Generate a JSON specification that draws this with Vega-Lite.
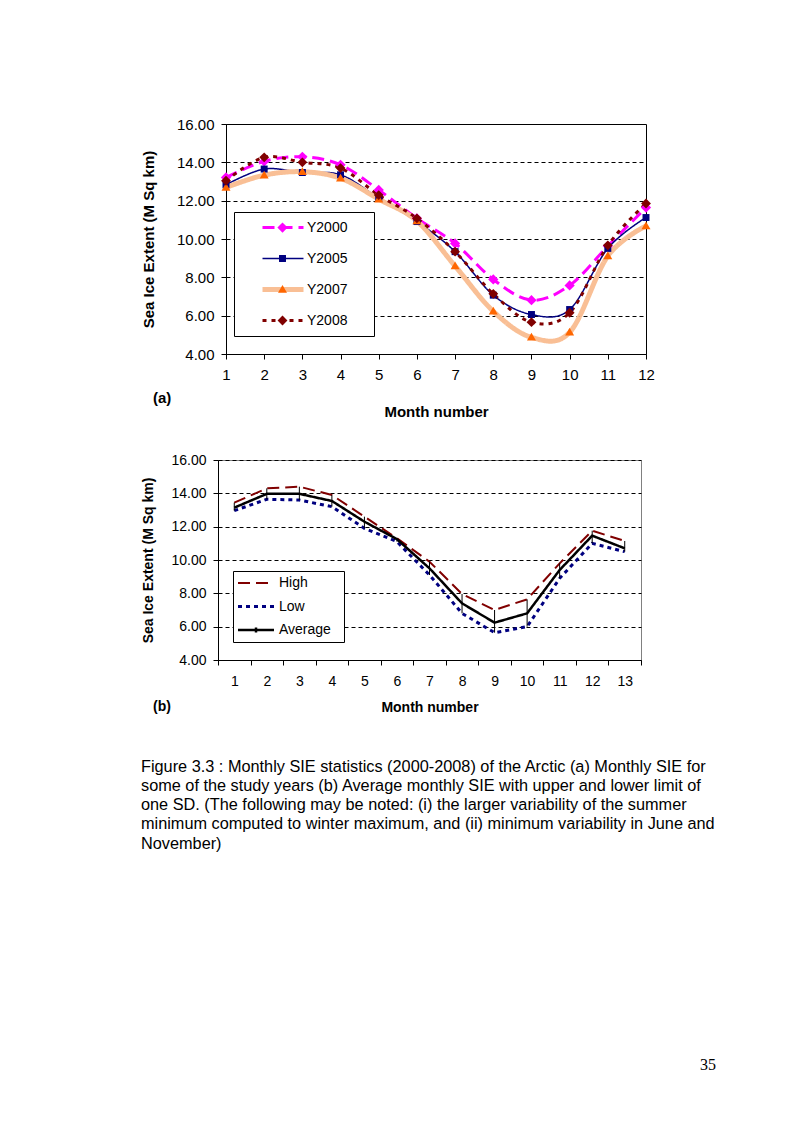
{
  "$schema": "https://vega.github.io/schema/vega-lite/v6.json",
  "background": "white",
  "padding": {"left": 140, "top": 116, "right": 5, "bottom": 5},
  "datasets": {
    "a": [
      {"month": 1, "series": "Y2000", "value": 13.21}, {"month": 2, "series": "Y2000", "value": 14.05}, {"month": 3, "series": "Y2000", "value": 14.29}, {"month": 4, "series": "Y2000", "value": 13.87}, {"month": 5, "series": "Y2000", "value": 12.56}, {"month": 6, "series": "Y2000", "value": 11.08}, {"month": 7, "series": "Y2000", "value": 9.77}, {"month": 8, "series": "Y2000", "value": 7.89}, {"month": 9, "series": "Y2000", "value": 6.81}, {"month": 10, "series": "Y2000", "value": 7.58}, {"month": 11, "series": "Y2000", "value": 9.63}, {"month": 12, "series": "Y2000", "value": 11.64},
      {"month": 1, "series": "Y2005", "value": 12.83}, {"month": 2, "series": "Y2005", "value": 13.65}, {"month": 3, "series": "Y2005", "value": 13.47}, {"month": 4, "series": "Y2005", "value": 13.35}, {"month": 5, "series": "Y2005", "value": 12.13}, {"month": 6, "series": "Y2005", "value": 10.91}, {"month": 7, "series": "Y2005", "value": 9.34}, {"month": 8, "series": "Y2005", "value": 7.07}, {"month": 9, "series": "Y2005", "value": 6.06}, {"month": 10, "series": "Y2005", "value": 6.32}, {"month": 11, "series": "Y2005", "value": 9.51}, {"month": 12, "series": "Y2005", "value": 11.12},
      {"month": 1, "series": "Y2007", "value": 12.69}, {"month": 2, "series": "Y2007", "value": 13.33}, {"month": 3, "series": "Y2007", "value": 13.51}, {"month": 4, "series": "Y2007", "value": 13.17}, {"month": 5, "series": "Y2007", "value": 12.08}, {"month": 6, "series": "Y2007", "value": 10.94}, {"month": 7, "series": "Y2007", "value": 8.59}, {"month": 8, "series": "Y2007", "value": 6.23}, {"month": 9, "series": "Y2007", "value": 4.87}, {"month": 10, "series": "Y2007", "value": 5.13}, {"month": 11, "series": "Y2007", "value": 9.11}, {"month": 12, "series": "Y2007", "value": 10.68},
      {"month": 1, "series": "Y2008", "value": 13.04}, {"month": 2, "series": "Y2008", "value": 14.26}, {"month": 3, "series": "Y2008", "value": 14.0}, {"month": 4, "series": "Y2008", "value": 13.7}, {"month": 5, "series": "Y2008", "value": 12.29}, {"month": 6, "series": "Y2008", "value": 11.08}, {"month": 7, "series": "Y2008", "value": 9.34}, {"month": 8, "series": "Y2008", "value": 7.14}, {"month": 9, "series": "Y2008", "value": 5.66}, {"month": 10, "series": "Y2008", "value": 6.15}, {"month": 11, "series": "Y2008", "value": 9.67}, {"month": 12, "series": "Y2008", "value": 11.85}
    ],
    "b": [
      {"month": 1, "series": "High", "value": 13.44}, {"month": 2, "series": "High", "value": 14.3}, {"month": 3, "series": "High", "value": 14.4}, {"month": 4, "series": "High", "value": 13.9}, {"month": 5, "series": "High", "value": 12.6}, {"month": 6, "series": "High", "value": 11.3}, {"month": 7, "series": "High", "value": 9.9}, {"month": 8, "series": "High", "value": 7.96}, {"month": 9, "series": "High", "value": 7.0}, {"month": 10, "series": "High", "value": 7.64}, {"month": 11, "series": "High", "value": 9.8}, {"month": 12, "series": "High", "value": 11.76}, {"month": 13, "series": "High", "value": 11.14},
      {"month": 1, "series": "Low", "value": 12.96}, {"month": 2, "series": "Low", "value": 13.64}, {"month": 3, "series": "Low", "value": 13.6}, {"month": 4, "series": "Low", "value": 13.2}, {"month": 5, "series": "Low", "value": 11.9}, {"month": 6, "series": "Low", "value": 11.1}, {"month": 7, "series": "Low", "value": 9.1}, {"month": 8, "series": "Low", "value": 6.8}, {"month": 9, "series": "Low", "value": 5.64}, {"month": 10, "series": "Low", "value": 6.0}, {"month": 11, "series": "Low", "value": 8.9}, {"month": 12, "series": "Low", "value": 11.0}, {"month": 13, "series": "Low", "value": 10.5},
      {"month": 1, "series": "Average", "value": 13.14}, {"month": 2, "series": "Average", "value": 13.97}, {"month": 3, "series": "Average", "value": 13.97}, {"month": 4, "series": "Average", "value": 13.54}, {"month": 5, "series": "Average", "value": 12.3}, {"month": 6, "series": "Average", "value": 11.25}, {"month": 7, "series": "Average", "value": 9.5}, {"month": 8, "series": "Average", "value": 7.4}, {"month": 9, "series": "Average", "value": 6.24}, {"month": 10, "series": "Average", "value": 6.8}, {"month": 11, "series": "Average", "value": 9.4}, {"month": 12, "series": "Average", "value": 11.46}, {"month": 13, "series": "Average", "value": 10.7}
    ]
  },
  "config": {
    "font": "Liberation Sans",
    "view": {"stroke": null},
    "axis": {
      "labelFont": "Liberation Sans", "labelColor": "black", "labelFontSize": 14, "labelOverlap": false, "labelFlush": false,
      "domainColor": "black", "tickColor": "black", "tickSize": 5,
      "titleFont": "Liberation Sans", "titleColor": "black", "titleFontWeight": "bold", "titleFontSize": 15,
      "gridColor": "black", "gridDash": [4, 3], "gridOpacity": 1, "gridWidth": 1
    },
    "legend": {"labelFont": "Liberation Sans", "labelColor": "black", "labelFontSize": 14},
    "title": {"font": "Liberation Sans", "color": "black"}
  },
  "columns": 1,
  "align": "none",
  "spacing": 32,
  "resolve": {"scale": {"color": "independent", "strokeDash": "independent", "fill": "independent", "shape": "independent"}},
  "concat": [
    {
      "hconcat": [
        {
          "width": 1,
          "height": 1,
          "data": {"values": [{"note": ""}]},
          "mark": {"type": "text"},
          "encoding": {"text": {"field": "note"}}
        },
        {
          "width": 420,
          "height": 230,
          "view": {"stroke": "black"},
          "title": {"text": "(a)", "orient": "bottom", "anchor": "start", "frame": "group", "dx": -73, "offset": -28, "fontSize": 15, "fontWeight": "bold"},
          "data": {"name": "a"},
          "layer": [
            {
              "mark": {"type": "line", "interpolate": "cardinal", "tension": 0},
              "encoding": {
                "x": {"field": "month", "type": "quantitative", "scale": {"domain": [1, 12], "nice": false, "zero": false},
                  "axis": {"values": [1, 2, 3, 4, 5, 6, 7, 8, 9, 10, 11, 12], "tickCount": 12, "grid": false, "labelFontSize": 15, "labelPadding": 8, "title": "Month number", "titlePadding": 22}},
                "y": {"field": "value", "type": "quantitative", "scale": {"domain": [4, 16], "nice": false, "zero": false},
                  "axis": {"values": [4, 6, 8, 10, 12, 14, 16], "tickCount": 7, "format": ".2f", "grid": true, "labelFontSize": 15, "labelPadding": 7, "title": "Sea Ice Extent (M Sq km)", "titlePadding": 19.5}},
                "color": {"field": "series", "type": "nominal", "scale": {"range": ["#FF00FF", "#000080", "#F9BF95", "#800000"]},
                  "legend": {"orient": "none", "legendX": 94, "legendY": 88, "zindex": 1, "title": null, "symbolType": "stroke", "symbolSize": 1681, "clipHeight": 17, "rowPadding": 14, "padding": 7, "symbolOffset": 20, "labelOffset": 2, "strokeColor": "black", "fillColor": "white", "labelExpr": "datum.label + '\u00a0\u00a0\u00a0\u00a0\u00a0\u200b'",
                    "encode": {"symbols": {"update": {"strokeWidth": {"signal": "(datum.value === 'Y2007' ? 5 : (datum.value === 'Y2005' ? 1.5 : 3))"}}}}}},
                "strokeDash": {"field": "series", "type": "nominal", "scale": {"range": [[12, 6], [1, 0], [1, 0], [4, 5]]},
                  "legend": {"orient": "none", "legendX": 94, "legendY": 88, "zindex": 1, "title": null, "symbolType": "stroke", "symbolSize": 1681, "clipHeight": 17, "rowPadding": 14, "padding": 7, "symbolOffset": 20, "labelOffset": 2, "strokeColor": "black", "fillColor": "white", "labelExpr": "datum.label + '\u00a0\u00a0\u00a0\u00a0\u00a0\u200b'",
                    "encode": {"symbols": {"update": {"strokeWidth": {"signal": "(datum.value === 'Y2007' ? 5 : (datum.value === 'Y2005' ? 1.5 : 3))"}}}}}},
                "strokeWidth": {"condition": [{"test": "datum.series === 'Y2007'", "value": 5}, {"test": "datum.series === 'Y2005'", "value": 1.5}], "value": 3}
              }
            },
            {
              "mark": {"type": "point", "filled": true, "size": 1681, "opacity": 1},
              "encoding": {
                "x": {"field": "month", "type": "quantitative"},
                "y": {"field": "value", "type": "quantitative"},
                "fill": {"field": "series", "type": "nominal", "scale": {"domain": ["Y2000", "Y2005", "Y2007", "Y2008"], "range": ["#FF00FF", "#000080", "#FF6600", "#800000"]},
                  "legend": {"orient": "none", "legendX": 94, "legendY": 88, "zindex": 2, "title": null, "symbolSize": 1681, "symbolStrokeWidth": 0, "clipHeight": 17, "rowPadding": 14, "padding": 7, "symbolOffset": 21, "labelOffset": 2, "labelOpacity": 0, "labelExpr": "''"}},
                "shape": {"field": "series", "type": "nominal", "scale": {"domain": ["Y2000", "Y2005", "Y2007", "Y2008"], "range": ["M0,-0.25L0.25,0L0,0.25L-0.25,0Z", "M-0.17,-0.17H0.17V0.17H-0.17Z", "M0,-0.22L0.22,0.16H-0.22Z", "M0,-0.24L0.24,0L0,0.24L-0.24,0Z"]},
                  "legend": {"orient": "none", "legendX": 94, "legendY": 88, "zindex": 2, "title": null, "symbolSize": 1681, "symbolStrokeWidth": 0, "clipHeight": 17, "rowPadding": 14, "padding": 7, "symbolOffset": 21, "labelOffset": 2, "labelOpacity": 0, "labelExpr": "''"}}
              }
            }
          ]
        }
      ],
      "spacing": 0
    },
    {
      "hconcat": [
        {
          "width": 1,
          "height": 1,
          "data": {"values": [{"note": ""}]},
          "mark": {"type": "text"},
          "encoding": {"text": {"field": "note"}}
        },
        {
          "width": 423,
          "height": 200,
          "view": {"stroke": "#808080"},
          "title": {"text": "(b)", "orient": "bottom", "anchor": "start", "frame": "group", "dx": -65, "offset": -14, "fontSize": 14, "fontWeight": "bold"},
          "data": {"name": "b"},
          "layer": [
            {
              "mark": {"type": "line"},
              "encoding": {
                "x": {"field": "month", "type": "ordinal", "scale": {"type": "band", "paddingInner": 0, "paddingOuter": 0},
                  "axis": {"labelAngle": 0, "tickBand": "extent", "grid": false, "labelPadding": 9, "title": "Month number", "titlePadding": 12, "titleFontSize": 14}},
                "y": {"field": "value", "type": "quantitative", "scale": {"domain": [4, 16], "nice": false, "zero": false},
                  "axis": {"values": [4, 6, 8, 10, 12, 14, 16], "tickCount": 7, "format": ".2f", "grid": true, "labelPadding": 7, "title": "Sea Ice Extent (M Sq km)", "titlePadding": 15, "titleFontSize": 14}},
                "color": {"field": "series", "type": "nominal", "scale": {"domain": ["High", "Low", "Average"], "range": ["#800000", "#000080", "#000000"]},
                  "legend": {"orient": "none", "legendX": 93, "legendY": 111, "title": null, "symbolType": "stroke", "symbolSize": 1296, "clipHeight": 14, "rowPadding": 9.5, "padding": 5, "symbolOffset": -1.5, "labelOffset": 3.5, "strokeColor": "black", "fillColor": "white", "labelExpr": "datum.label + '\u00a0\u00a0\u200b'",
                    "encode": {"symbols": {"update": {"strokeWidth": {"signal": "(datum.value === 'High' ? 2 : (datum.value === 'Low' ? 3 : 2.5))"}, "shape": {"signal": "(datum.value === 'Average' ? 'M-1,0H1M0,-0.14V0.14' : 'stroke')"}}}}}},
                "strokeDash": {"field": "series", "type": "nominal", "scale": {"domain": ["High", "Low", "Average"], "range": [[12, 6], [4, 4], [1, 0]]},
                  "legend": {"orient": "none", "legendX": 93, "legendY": 111, "title": null, "symbolType": "stroke", "symbolSize": 1296, "clipHeight": 14, "rowPadding": 9.5, "padding": 5, "symbolOffset": -1.5, "labelOffset": 3.5, "strokeColor": "black", "fillColor": "white", "labelExpr": "datum.label + '\u00a0\u00a0\u200b'",
                    "encode": {"symbols": {"update": {"strokeWidth": {"signal": "(datum.value === 'High' ? 2 : (datum.value === 'Low' ? 3 : 2.5))"}, "shape": {"signal": "(datum.value === 'Average' ? 'M-1,0H1M0,-0.14V0.14' : 'stroke')"}}}}}},
                "strokeWidth": {"condition": [{"test": "datum.series === 'High'", "value": 2}, {"test": "datum.series === 'Low'", "value": 3}], "value": 2.5}
              }
            },
            {
              "transform": [{"pivot": "series", "value": "value", "groupby": ["month"]}],
              "mark": {"type": "rule", "color": "black", "strokeWidth": 1},
              "encoding": {
                "x": {"field": "month", "type": "ordinal"},
                "y": {"field": "Low", "type": "quantitative", "title": "Sea Ice Extent (M Sq km)"},
                "y2": {"field": "High"}
              }
            }
          ]
        }
      ],
      "spacing": 0
    },
    {
      "width": 580,
      "height": 1,
      "data": {"values": [{"note": ""}]},
      "mark": {"type": "text"},
      "encoding": {"text": {"field": "note"}},
      "title": {
        "text": [
          "Figure 3.3 : Monthly SIE statistics (2000-2008) of the Arctic (a) Monthly SIE for",
          "some of the study years (b) Average monthly SIE with upper and lower limit of",
          "one SD.  (The following may be noted: (i) the larger variability of the summer",
          "minimum computed to winter maximum, and (ii) minimum variability in June and",
          "November)"
        ],
        "orient": "bottom", "anchor": "start", "frame": "group", "fontSize": 16.3, "fontWeight": "normal", "lineHeight": 19.3, "offset": 0, "dx": 1
      }
    },
    {
      "width": 580,
      "height": 1,
      "data": {"values": [{"note": ""}]},
      "mark": {"type": "text"},
      "encoding": {"text": {"field": "note"}},
      "title": {"text": "35", "orient": "bottom", "anchor": "end", "frame": "group", "font": "Liberation Serif", "fontSize": 16, "fontWeight": "normal", "dx": -4, "offset": 161}
    }
  ]
}
